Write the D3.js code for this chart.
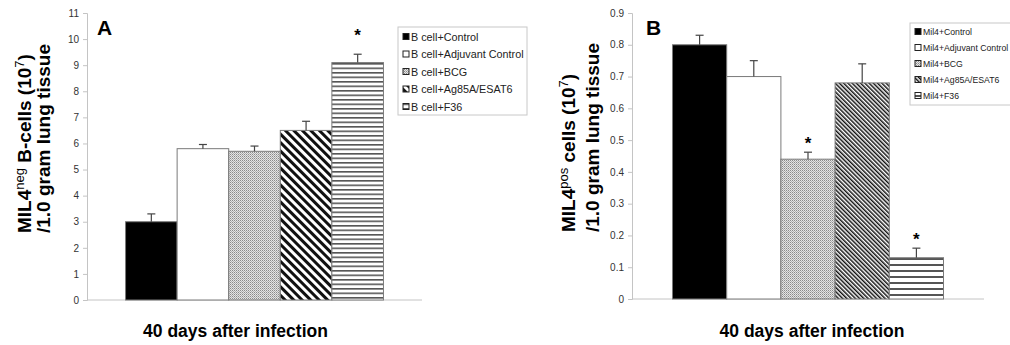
<!DOCTYPE html>
<html>
<head>
<meta charset="utf-8">
<script src="https://cdn.jsdelivr.net/npm/d3@7"></script>
<style>
  html, body { margin: 0; padding: 0; background: #fff; }
  svg { display: block; font-family: "Liberation Sans", Arial, sans-serif; }
</style>
</head>
<body>
<svg id="chart" width="1010" height="345"></svg>
<script>
// data
const groupLabel = "40 days after infection";

const seriesA = ["B cell+Control", "B cell+Adjuvant Control", "B cell+BCG", "B cell+Ag85A/ESAT6", "B cell+F36"];
const valuesA = [3.0, 5.8, 5.7, 6.5, 9.1];
const errorsA = [0.3, 0.16, 0.2, 0.35, 0.32];
const starsA = [false, false, false, false, true];
const ticksA = [0, 1, 2, 3, 4, 5, 6, 7, 8, 9, 10, 11];

const seriesB = ["Mil4+Control", "Mil4+Adjuvant Control", "Mil4+BCG", "Mil4+Ag85A/ESAT6", "Mil4+F36"];
const valuesB = [0.80, 0.70, 0.44, 0.68, 0.13];
const errorsB = [0.03, 0.05, 0.022, 0.06, 0.03];
const starsB = [false, false, true, false, true];
const ticksB = [0, 0.1, 0.2, 0.3, 0.4, 0.5, 0.6, 0.7, 0.8, 0.9];

const svg = d3.select("#chart");
const defs = svg.append("defs");

// fill patterns (two densities, one per panel)
function makePatterns(key, diagStep, hStep, hLine) {
  const dots = defs.append("pattern").attr("id", "dots" + key)
    .attr("patternUnits", "userSpaceOnUse").attr("width", 2).attr("height", 2);
  dots.append("rect").attr("width", 2).attr("height", 2).attr("fill", "#e4e4e4");
  dots.append("rect").attr("width", 1).attr("height", 1).attr("fill", "#8a8a8a");
  dots.append("rect").attr("x", 1).attr("y", 1).attr("width", 1).attr("height", 1).attr("fill", "#b0b0b0");

  const diag = defs.append("pattern").attr("id", "diag" + key)
    .attr("patternUnits", "userSpaceOnUse").attr("width", diagStep).attr("height", diagStep)
    .attr("patternTransform", "rotate(-45)");
  diag.append("rect").attr("width", diagStep).attr("height", diagStep).attr("fill", "#fff");
  diag.append("rect").attr("width", diagStep * 0.5).attr("height", diagStep).attr("fill", "#111");

  const horiz = defs.append("pattern").attr("id", "horiz" + key)
    .attr("patternUnits", "userSpaceOnUse").attr("width", 8).attr("height", hStep);
  horiz.append("rect").attr("width", 8).attr("height", hStep).attr("fill", "#fff");
  horiz.append("rect").attr("width", 8).attr("height", hLine).attr("fill", "#555");

  return ["#000", "#fff", `url(#dots${key})`, `url(#diag${key})`, `url(#horiz${key})`];
}

const fillsA = makePatterns("A", 6, 4.5, 1.6);
const fillsB = makePatterns("B", 3, 6, 2);

function drawPanel(cfg) {
  const g = svg.append("g");

  const y = d3.scaleLinear().domain(cfg.domain).range([cfg.bottom, cfg.top]);
  const xGroup = d3.scaleBand().domain([groupLabel]).range([cfg.left, cfg.right]).padding(0.13);
  const x = d3.scaleBand().domain(cfg.series).range([xGroup(groupLabel), xGroup(groupLabel) + xGroup.bandwidth()]);

  // y axis
  const yAxis = g.append("g").attr("transform", `translate(${cfg.left},0)`)
    .call(d3.axisLeft(y).tickValues(cfg.ticks).tickSize(4).tickPadding(4).tickFormat(cfg.fmt));
  yAxis.select(".domain").attr("stroke", "#c4c4c4");
  yAxis.selectAll(".tick line").attr("stroke", "#c4c4c4");
  yAxis.selectAll(".tick text").attr("fill", "#333").style("font-size", "10px")
    .style("font-family", "\"Liberation Sans\", Arial, sans-serif");

  // x axis line
  g.append("line").attr("x1", cfg.left).attr("x2", cfg.right)
    .attr("y1", y(0)).attr("y2", y(0)).attr("stroke", "#c4c4c4");

  // bars
  g.append("g").selectAll("rect").data(cfg.values).join("rect")
    .attr("x", (d, i) => x(cfg.series[i]))
    .attr("y", d => y(d))
    .attr("width", x.bandwidth())
    .attr("height", d => y(0) - y(d))
    .attr("fill", (d, i) => cfg.fills[i])
    .attr("stroke", "#7a7a7a").attr("stroke-width", 1);

  // upper error bars
  const eb = g.append("g").attr("stroke", "#444").attr("stroke-width", 1.2);
  cfg.values.forEach((v, i) => {
    const cx = x(cfg.series[i]) + x.bandwidth() / 2;
    const top = y(v + cfg.errors[i]);
    eb.append("line").attr("x1", cx).attr("x2", cx).attr("y1", y(v)).attr("y2", top);
    eb.append("line").attr("x1", cx - 4).attr("x2", cx + 4).attr("y1", top).attr("y2", top);
    if (cfg.stars[i]) {
      g.append("text").attr("x", cx).attr("y", top - cfg.starGap)
        .attr("text-anchor", "middle").style("font-size", "17px").style("font-weight", "bold")
        .text("*");
    }
  });

  // panel letter
  g.append("text").attr("x", cfg.letterX).attr("y", 35)
    .style("font-size", "21px").style("font-weight", "bold").text(cfg.letter);

  // y title, two lines, starting from the bottom
  const t1 = g.append("text")
    .attr("transform", `translate(${cfg.titleX1},${cfg.titleStart}) rotate(-90)`)
    .style("font-size", "19px").style("font-weight", "bold");
  t1.append("tspan").text("MIL4");
  t1.append("tspan").attr("dy", -7).style("font-size", "13px").style("font-weight", "normal").text(cfg.sup);
  t1.append("tspan").attr("dy", 7).text(cfg.titleRest + " (10");
  t1.append("tspan").attr("dy", -7).style("font-size", "13px").style("font-weight", "normal").text("7");
  t1.append("tspan").attr("dy", 7).text(")");

  g.append("text")
    .attr("transform", `translate(${cfg.titleX2},${cfg.titleStart}) rotate(-90)`)
    .style("font-size", "19px").style("font-weight", "bold")
    .text("/1.0 gram lung tissue");

  // x label
  g.append("text").attr("x", xGroup(groupLabel) + xGroup.bandwidth() / 2 + cfg.xLabelShift).attr("y", 337)
    .attr("text-anchor", "middle").style("font-size", "17.5px").style("font-weight", "bold")
    .text(groupLabel);

  // legend
  const lg = g.append("g").attr("transform", `translate(${cfg.legX},${cfg.legY})`);
  lg.append("rect").attr("width", cfg.legW).attr("height", cfg.legH)
    .attr("fill", "#fff").attr("stroke", "#c8c8c8");
  cfg.series.forEach((s, i) => {
    const ey = cfg.legRow0 + i * cfg.legRow;
    lg.append("rect").attr("x", 5).attr("y", ey - 3.5).attr("width", 6).attr("height", 6)
      .attr("fill", cfg.fills[i]).attr("stroke", "#222").attr("stroke-width", 1);
    lg.append("text").attr("x", 13).attr("y", ey).attr("dy", "0.35em")
      .attr("fill", "#222").style("font-size", cfg.legFont).text(s);
  });
}

drawPanel({
  letter: "A", letterX: 97,
  series: seriesA, values: valuesA, errors: errorsA, stars: starsA, fills: fillsA,
  domain: [0, 11], ticks: ticksA, fmt: d3.format("d"),
  left: 87, right: 422, top: 13, bottom: 300, starGap: 13, xLabelShift: -19,
  sup: "neg", titleRest: " B-cells", titleX1: 31, titleX2: 50, titleStart: 233,
  legX: 398, legY: 27, legW: 129, legH: 88, legRow0: 10, legRow: 17.5, legFont: "10.8px"
});

drawPanel({
  letter: "B", letterX: 646,
  series: seriesB, values: valuesB, errors: errorsB, stars: starsB, fills: fillsB,
  domain: [0, 0.9], ticks: ticksB, fmt: d => d === 0 ? "0" : d3.format(".1f")(d),
  left: 632, right: 984, top: 13, bottom: 299, starGap: 3, xLabelShift: 4,
  sup: "pos", titleRest: " cells", titleX1: 575, titleX2: 599, titleStart: 232,
  legX: 910, legY: 23, legW: 110, legH: 82, legRow0: 9, legRow: 16, legFont: "8.7px"
});
</script>
</body>
</html>
